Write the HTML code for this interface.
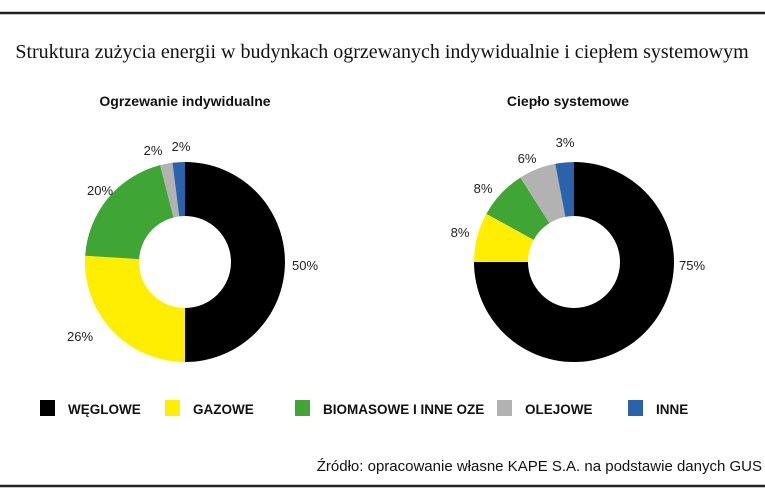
<!DOCTYPE html>
<html><head><meta charset="utf-8"><style>
body{margin:0;background:#fff;width:765px;height:496px;overflow:hidden;font-family:"Liberation Sans",sans-serif}
</style></head><body>
<svg id="c" width="765" height="496">
<line x1="0" y1="13" x2="765" y2="13" stroke="#222" stroke-width="2.5"/>
<line x1="0" y1="486" x2="765" y2="486" stroke="#222" stroke-width="2.5"/>
<text x="382" y="58" text-anchor="middle" font-family="Liberation Serif,serif" font-size="20" fill="#111">Struktura zużycia energii w budynkach ogrzewanych indywidualnie i ciepłem systemowym</text>
<text x="185" y="106" text-anchor="middle" font-weight="bold" font-size="14" fill="#111">Ogrzewanie indywidualne</text>
<text x="568" y="106" text-anchor="middle" font-weight="bold" font-size="14" fill="#111">Ciepło systemowe</text>
<g id="g"></g>
<text x="762" y="471" text-anchor="end" font-size="15" fill="#111">Źródło: opracowanie własne KAPE S.A. na podstawie danych GUS</text>
</svg>
<script>
const categories=["WĘGLOWE","GAZOWE","BIOMASOWE I INNE OZE","OLEJOWE","INNE"];
const colors=["#000000","#ffee00","#3fa535","#b2b2b2","#2a62ac"];
const individualValues=[50,26,20,2,2];
const districtValues=[75,8,8,6,3];
const individualLabels=[[305,270],[80,341],[100,195],[153,155],[181,151]];
const districtLabels=[[692,270],[460,237],[483,193],[527,163],[565,147]];
const NS="http://www.w3.org/2000/svg",g=document.getElementById('g');
function donut(vals,cx,cy,R,r,labels,name){
 const tot=vals.reduce((a,b)=>a+b,0);let a0=0;
 vals.forEach((v,i)=>{const a1=a0+v/tot*2*Math.PI;
  const p=(a,rad)=>[cx+rad*Math.sin(a),cy-rad*Math.cos(a)];
  const [x0,y0]=p(a0,R),[x1,y1]=p(a1,R),[x2,y2]=p(a1,r),[x3,y3]=p(a0,r);const L=(a1-a0)>Math.PI?1:0;
  const path=document.createElementNS(NS,'path');
  path.setAttribute('d',`M${x0},${y0}A${R},${R} 0 ${L} 1 ${x1},${y1}L${x2},${y2}A${r},${r} 0 ${L} 0 ${x3},${y3}Z`);
  path.setAttribute('fill',colors[i]);
  
  
  g.appendChild(path);
  const t=document.createElementNS(NS,'text');
  t.setAttribute('x',labels[i][0]);t.setAttribute('y',labels[i][1]);t.setAttribute('font-size','13');t.setAttribute('text-anchor','middle');t.setAttribute('fill','#222');
  t.textContent=v+'%';
  
  
  g.appendChild(t);a0=a1;});
}
donut(individualValues,185,262,100,46,individualLabels,'individual');
donut(districtValues,574,262,100,46,districtLabels,'district');
const lx=[40,165,295,497,628];
categories.forEach((c,i)=>{
 const rc=document.createElementNS(NS,'rect');rc.setAttribute('x',lx[i]);rc.setAttribute('y',400);rc.setAttribute('width',15);rc.setAttribute('height',16);rc.setAttribute('fill',colors[i]);
 
 
 g.appendChild(rc);
 const t=document.createElementNS(NS,'text');t.setAttribute('x',lx[i]+28);t.setAttribute('y',414);t.setAttribute('font-size','13.5');t.setAttribute('font-weight','bold');t.setAttribute('fill','#111');t.textContent=c;
 
 
 g.appendChild(t);
});
</script>
</body></html>
